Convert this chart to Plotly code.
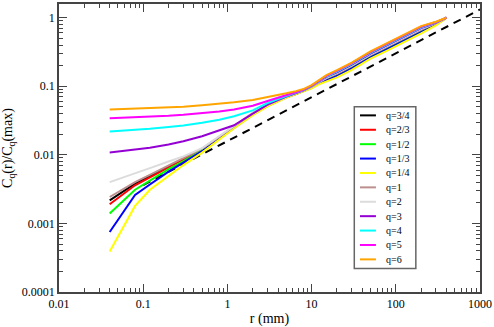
import plotly.graph_objects as go

# radii (mm)
r = [0.04, 0.08, 0.12, 0.2, 0.3, 0.5, 0.8, 1.2, 2, 3, 5, 6.5, 8, 10, 12, 15, 20, 30, 50, 80, 120, 200, 300, 400]

q_labels = ["q=3/4", "q=2/3", "q=1/2", "q=1/3", "q=1/4", "q=1", "q=2", "q=3", "q=4", "q=5", "q=6"]
q_colors = ["#000000", "#ff0000", "#00ff00", "#0000ff", "#ffff00", "#bc8f8f",
            "#dcdcdc", "#9400d3", "#00ffff", "#ff00ff", "#ffa500"]

c_q34 = [0.00217, 0.0038, 0.0049, 0.0068, 0.0086, 0.0121, 0.0181, 0.026, 0.0402, 0.0532, 0.0702, 0.0785, 0.0862,
         0.098, 0.113, 0.130, 0.151, 0.195, 0.283, 0.376, 0.479, 0.664, 0.821, 1.0]
c_q23 = [0.0019, 0.0036, 0.0047, 0.0066, 0.0085, 0.012, 0.018, 0.0258, 0.040, 0.053, 0.070, 0.078, 0.086,
         0.0975, 0.112, 0.129, 0.150, 0.193, 0.280, 0.372, 0.473, 0.657, 0.816, 1.0]
c_q12 = [0.0014, 0.0031, 0.0042, 0.0062, 0.0081, 0.0117, 0.0177, 0.0255, 0.0397, 0.0527, 0.0697, 0.0775, 0.0857,
         0.0965, 0.111, 0.126, 0.146, 0.189, 0.274, 0.363, 0.463, 0.642, 0.807, 1.0]
c_q13 = [0.00075, 0.0026, 0.0037, 0.0057, 0.0077, 0.0113, 0.0173, 0.025, 0.039, 0.052, 0.069, 0.077, 0.085,
         0.095, 0.109, 0.123, 0.141, 0.182, 0.264, 0.351, 0.447, 0.620, 0.793, 1.0]
c_q14 = [0.00039, 0.0018, 0.0031, 0.0050, 0.0071, 0.0108, 0.0168, 0.0244, 0.038, 0.051, 0.068, 0.076, 0.084,
         0.093, 0.106, 0.119, 0.135, 0.174, 0.253, 0.335, 0.427, 0.592, 0.774, 1.0]
c_q1 = [0.00243, 0.0040, 0.0051, 0.0070, 0.0088, 0.0123, 0.0183, 0.0262, 0.0405, 0.0535, 0.0705, 0.0787, 0.0865,
        0.0985, 0.113, 0.131, 0.153, 0.198, 0.287, 0.381, 0.485, 0.672, 0.825, 1.0]
c_q2 = [0.0040, 0.0053, 0.0064, 0.0080, 0.0095, 0.0125, 0.0185, 0.0265, 0.041, 0.054, 0.071, 0.079, 0.087,
        0.100, 0.115, 0.134, 0.157, 0.202, 0.293, 0.390, 0.496, 0.688, 0.835, 1.0]
c_q3 = [0.0108, 0.0118, 0.0127, 0.0142, 0.0158, 0.0187, 0.0225, 0.0270, 0.040, 0.054, 0.071, 0.079, 0.087,
        0.1005, 0.116, 0.137, 0.160, 0.207, 0.300, 0.398, 0.507, 0.704, 0.844, 1.0]
c_q4 = [0.0220, 0.0231, 0.0240, 0.0255, 0.0268, 0.0293, 0.0325, 0.0365, 0.0445, 0.057, 0.073, 0.081, 0.088,
        0.101, 0.117, 0.139, 0.164, 0.212, 0.307, 0.408, 0.519, 0.720, 0.854, 1.0]
c_q5 = [0.0341, 0.0352, 0.0360, 0.0372, 0.0385, 0.0405, 0.043, 0.0458, 0.052, 0.061, 0.075, 0.082, 0.089,
        0.102, 0.119, 0.142, 0.168, 0.217, 0.314, 0.417, 0.531, 0.737, 0.864, 1.0]
c_q6 = [0.0458, 0.0470, 0.0478, 0.0492, 0.0505, 0.053, 0.0555, 0.0585, 0.063, 0.069, 0.079, 0.085, 0.091,
        0.104, 0.120, 0.145, 0.172, 0.222, 0.322, 0.427, 0.543, 0.754, 0.874, 1.0]

series = [c_q34, c_q23, c_q12, c_q13, c_q14, c_q1, c_q2, c_q3, c_q4, c_q5, c_q6]

# reference power-law (dashed)
ref_r = [0.1, 1000]
ref_c = [0.00363, 1.32]

x_tickvals = [0.01, 0.1, 1, 10, 100, 1000]
x_ticktext = ["0.01", "0.1", "1", "10", "100", "1000"]
y_tickvals = [0.0001, 0.001, 0.01, 0.1, 1]
y_ticktext = ["0.0001", "0.001", "0.01", "0.1", "1"]

FONT = "Liberation Serif, Times New Roman, serif"

fig = go.Figure()
fig.add_trace(go.Scatter(x=ref_r, y=ref_c, mode="lines",
                         line=dict(color="black", width=2, dash="8px,6px"),
                         showlegend=False))
for lab, col, ys in zip(q_labels, q_colors, series):
    fig.add_trace(go.Scatter(x=r, y=ys, mode="lines", name=lab,
                             line=dict(color=col, width=2), showlegend=False))

axis_common = dict(
    type="log", showgrid=False, zeroline=False, showline=True, mirror="allticks",
    linecolor="#444444", linewidth=1.5, ticks="inside", ticklen=8, tickwidth=1.2,
    tickcolor="#444444", tickfont=dict(family=FONT, size=12, color="black"),
    minor=dict(ticks="inside", ticklen=4, tickwidth=1, tickcolor="#444444", dtick="D1", showgrid=False),
)

fig.update_layout(
    width=494, height=327,
    margin=dict(l=59, r=13, t=2, b=31),
    paper_bgcolor="white", plot_bgcolor="white",
    font=dict(family=FONT, size=12, color="black"),
    xaxis=dict(range=[-2, 3], tickvals=x_tickvals, ticktext=x_ticktext,
               title=dict(text="r (mm)", font=dict(family=FONT, size=14), standoff=4),
               **axis_common),
    yaxis=dict(range=[-4, 0.2], tickvals=y_tickvals, ticktext=y_ticktext,
               title=dict(text="C<sub>q</sub>(r)/C<sub>q</sub>(max)", font=dict(family=FONT, size=14), standoff=6),
               **axis_common),
    showlegend=False,
)

# manual legend box (xmgrace style)
lx0, lx1 = 0.7014, 0.8476
ly0, ly1 = 0.0816, 0.6429
fig.add_shape(type="rect", xref="paper", yref="paper", x0=lx0, x1=lx1, y0=ly0, y1=ly1,
              line=dict(color="#666666", width=1.5), fillcolor="white", layer="above")
first_y = 0.6133
step = 14.7 / 294
for i, (lab, col) in enumerate(zip(q_labels, q_colors)):
    yy = first_y - i * step
    fig.add_shape(type="line", xref="paper", yref="paper", x0=0.7149, x1=0.7528, y0=yy, y1=yy,
                  line=dict(color=col, width=2), layer="above")
    fig.add_annotation(xref="paper", yref="paper", x=0.7725, y=yy, text=lab, showarrow=False,
                       xanchor="left", yanchor="middle", font=dict(family=FONT, size=10, color="black"))

fig.write_html("out.html", config={"displayModeBar": False},
               post_script="document.body.style.margin='0';document.body.style.overflow='hidden';")
